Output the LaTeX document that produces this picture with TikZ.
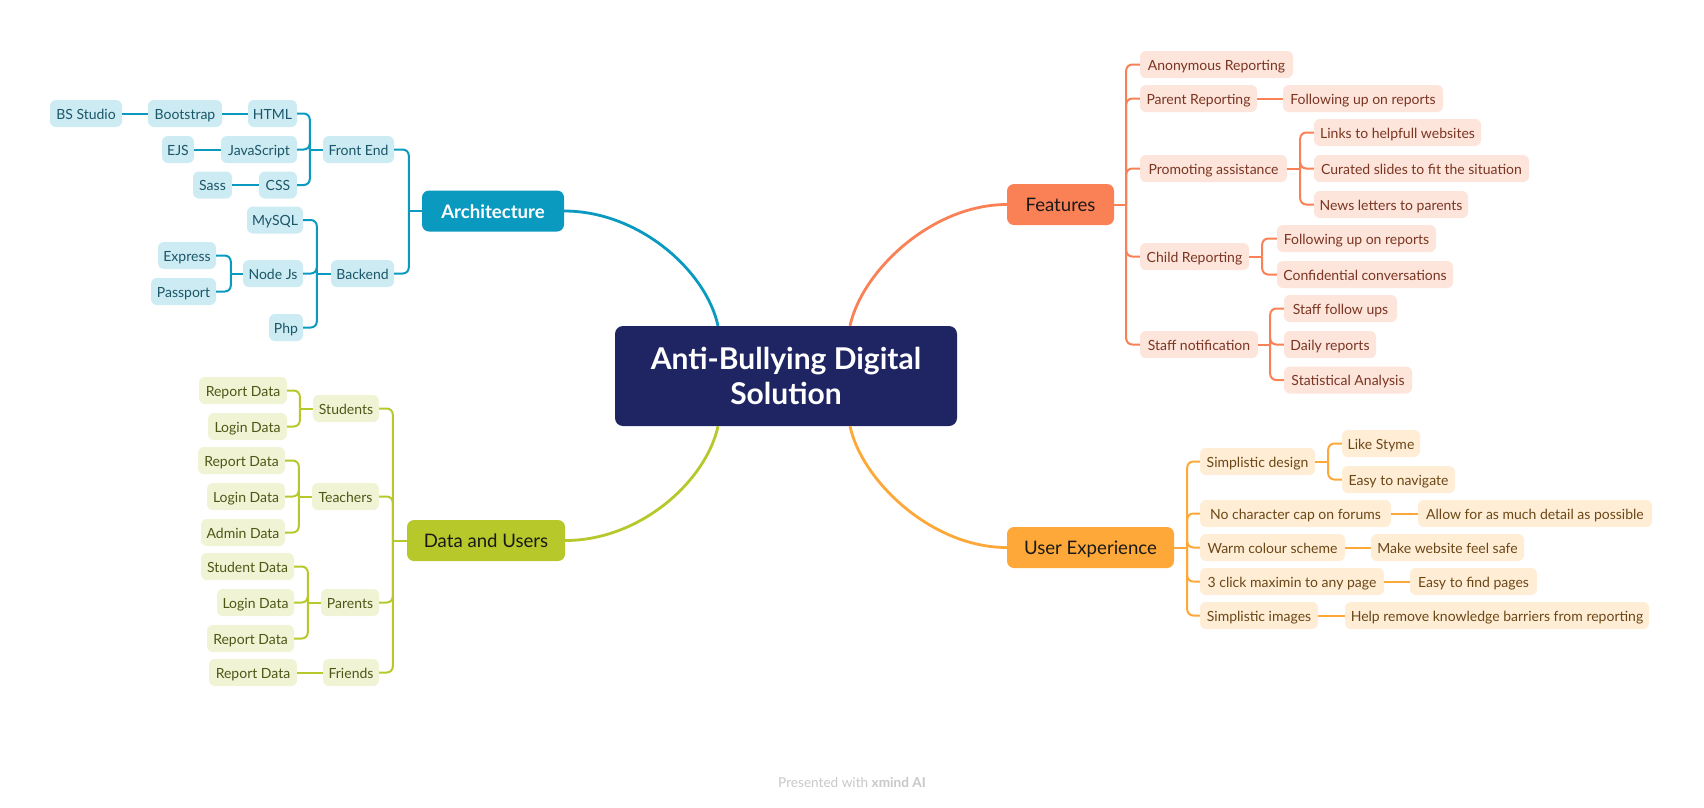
\documentclass[tikz,border=0pt]{standalone}
\usepackage{fontspec}
\setmainfont{Lato}
\definecolor{navy}{HTML}{1F2563}
\definecolor{aC}{HTML}{0A9AC0}\definecolor{aL}{HTML}{CDEBF3}\definecolor{aT}{HTML}{1A5668}
\definecolor{fC}{HTML}{FA8155}\definecolor{fL}{HTML}{FEE5DB}\definecolor{fT}{HTML}{7A3522}
\definecolor{gC}{HTML}{B7C82B}\definecolor{gL}{HTML}{F0F4D4}\definecolor{gT}{HTML}{4D5716}
\definecolor{uC}{HTML}{FDA838}\definecolor{uL}{HTML}{FFEDD6}\definecolor{uT}{HTML}{6B4716}
\definecolor{footgray}{HTML}{C8C8C8}
\begin{document}
\begin{tikzpicture}[x=1pt,y=-1pt,
  sub/.style={rounded corners=6pt, minimum height=27pt, inner sep=0pt, text height=11pt, text depth=0pt, font=\fontsize{14}{16}\selectfont},
  asub/.style={sub, fill=aL, text=aT},
  fsub/.style={sub, fill=fL, text=fT},
  gsub/.style={sub, fill=gL, text=gT},
  usub/.style={sub, fill=uL, text=uT},
  br/.style={rounded corners=7pt, minimum height=41pt, inner sep=0pt, text height=14pt, text depth=0pt, font=\fontsize{18.6}{22}\selectfont, text=black!90},
  rootbox/.style={rounded corners=8pt, fill=navy, text=white, minimum width=342pt, minimum height=100pt, inner sep=0pt, align=center, font=\fontsize{30}{35}\selectfont\bfseries},
  aln/.style={draw=aC, line width=2pt, rounded corners=6pt},
  fln/.style={draw=fC, line width=2pt, rounded corners=6pt},
  gln/.style={draw=gC, line width=2pt, rounded corners=6pt},
  uln/.style={draw=uC, line width=2pt, rounded corners=6pt},
  mainln/.style={line width=2.8pt}
]
\useasboundingbox (0,0) rectangle (1704,807);
\fill[white] (0,0) rectangle (1704,807);

% root
\node[rootbox] (root) at (786,376) {Anti-Bullying Digital\\Solution};

% ===== Architecture =====
\node[br, fill=aC, text=white, font=\fontsize{18.6}{22}\selectfont\bfseries, minimum width=142pt] (arch) at (493,211) {Architecture};
\node[asub, minimum width=72pt] (bs) at (86,113.5) {BS Studio};
\node[asub, minimum width=74pt] (boot) at (185,113.5) {Bootstrap};
\node[asub, minimum width=49pt] (html) at (272.5,113.5) {HTML};
\node[asub, minimum width=32pt] (ejs) at (178,149.5) {EJS};
\node[asub, minimum width=76pt] (js) at (259,149.5) {JavaScript};
\node[asub, minimum width=71pt] (fe) at (358.5,149.5) {Front End};
\node[asub, minimum width=39pt] (sass) at (212.5,185) {Sass};
\node[asub, minimum width=38pt] (css) at (278,185) {CSS};
\node[asub, minimum width=56pt] (mysql) at (275,220) {MySQL};
\node[asub, minimum width=58pt] (express) at (187,255.5) {Express};
\node[asub, minimum width=60pt] (nodejs) at (273,273.5) {Node Js};
\node[asub, minimum width=63pt] (backend) at (362.5,273.5) {Backend};
\node[asub, minimum width=65pt] (passport) at (183.5,291.5) {Passport};
\node[asub, minimum width=34pt] (php) at (286,327.5) {Php};

\draw[aln] (arch.west) -- ++(-13,0) coordinate (aj);
\draw[aln] (aj) |- (fe.east);
\draw[aln] (aj) |- (backend.east);
\draw[aln] (fe.west) -- ++(-13,0) coordinate (fej);
\draw[aln] (fej) |- (html.east);
\draw[aln] (fej) |- (js.east);
\draw[aln] (fej) |- (css.east);
\draw[aln] (html.west) -- (boot.east);
\draw[aln] (boot.west) -- (bs.east);
\draw[aln] (js.west) -- (ejs.east);
\draw[aln] (css.west) -- (sass.east);
\draw[aln] (backend.west) -- ++(-14,0) coordinate (bej);
\draw[aln] (bej) |- (mysql.east);
\draw[aln] (bej) |- (nodejs.east);
\draw[aln] (bej) |- (php.east);
\draw[aln] (nodejs.west) -- ++(-12,0) coordinate (nj);
\draw[aln] (nj) |- (express.east);
\draw[aln] (nj) |- (passport.east);

% ===== Data and Users =====
\node[br, fill=gC, minimum width=158pt] (dau) at (486,540.5) {Data and Users};
\node[gsub, minimum width=66pt] (stu) at (346,408.5) {Students};
\node[gsub, minimum width=88pt] (s1) at (243,390.5) {Report Data};
\node[gsub, minimum width=79pt] (s2) at (247.5,426.5) {Login Data};
\node[gsub, minimum width=67pt] (tea) at (345.5,496.5) {Teachers};
\node[gsub, minimum width=87pt] (t1) at (241.5,460.5) {Report Data};
\node[gsub, minimum width=78pt] (t2) at (246,496.5) {Login Data};
\node[gsub, minimum width=84pt] (t3) at (243,532.5) {Admin Data};
\node[gsub, minimum width=58pt] (par) at (350,602.5) {Parents};
\node[gsub, minimum width=93pt] (p1) at (247.5,566.5) {Student Data};
\node[gsub, minimum width=77pt] (p2) at (255.5,602.5) {Login Data};
\node[gsub, minimum width=87pt] (p3) at (250.5,638.5) {Report Data};
\node[gsub, minimum width=56pt] (fri) at (351,672.5) {Friends};
\node[gsub, minimum width=88pt] (f1) at (253,672.5) {Report Data};

\draw[gln] (dau.west) -- ++(-14,0) coordinate (dj);
\draw[gln] (dj) |- (stu.east);
\draw[gln] (dj) |- (tea.east);
\draw[gln] (dj) |- (par.east);
\draw[gln] (dj) |- (fri.east);
\draw[gln] (stu.west) -- ++(-13,0) coordinate (sj);
\draw[gln] (sj) |- (s1.east);
\draw[gln] (sj) |- (s2.east);
\draw[gln] (tea.west) -- ++(-13,0) coordinate (tj);
\draw[gln] (tj) |- (t1.east);
\draw[gln] (tj) |- (t2.east);
\draw[gln] (tj) |- (t3.east);
\draw[gln] (par.west) -- ++(-13,0) coordinate (pj);
\draw[gln] (pj) |- (p1.east);
\draw[gln] (pj) |- (p2.east);
\draw[gln] (pj) |- (p3.east);
\draw[gln] (fri.west) -- (f1.east);

% ===== Features =====
\node[br, fill=fC, minimum width=107pt] (feat) at (1060.5,204.5) {Features};
\node[fsub, minimum width=153pt] (anon) at (1216.5,64.5) {Anonymous Reporting};
\node[fsub, minimum width=117pt] (parrep) at (1198.5,98.5) {Parent Reporting};
\node[fsub, minimum width=160pt] (fu1) at (1363,98.5) {Following up on reports};
\node[fsub, minimum width=147pt] (prom) at (1213.5,168.5) {Promoting assistance};
\node[fsub, minimum width=167pt] (links) at (1397.5,132.5) {Links to helpfull websites};
\node[fsub, minimum width=215pt] (cur) at (1421.5,168.5) {Curated slides to fit the situation};
\node[fsub, minimum width=154pt] (news) at (1391,204.5) {News letters to parents};
\node[fsub, minimum width=109pt] (child) at (1194.5,256.5) {Child Reporting};
\node[fsub, minimum width=159pt] (fu2) at (1356.5,238.5) {Following up on reports};
\node[fsub, minimum width=176pt] (conf) at (1365,274.5) {Confidential conversations};
\node[fsub, minimum width=118pt] (staff) at (1199,344.5) {Staff notification};
\node[fsub, minimum width=113pt] (sfu) at (1340.5,308.5) {Staff follow ups};
\node[fsub, minimum width=92pt] (daily) at (1330,344.5) {Daily reports};
\node[fsub, minimum width=128pt] (stat) at (1348,380) {Statistical Analysis};

\draw[fln] (feat.east) -- ++(12,0) coordinate (fj);
\draw[fln] (fj) |- (anon.west);
\draw[fln] (fj) |- (parrep.west);
\draw[fln] (fj) |- (prom.west);
\draw[fln] (fj) |- (child.west);
\draw[fln] (fj) |- (staff.west);
\draw[fln] (parrep.east) -- (fu1.west);
\draw[fln] (prom.east) -- ++(13,0) coordinate (prj);
\draw[fln] (prj) |- (links.west);
\draw[fln] (prj) |- (cur.west);
\draw[fln] (prj) |- (news.west);
\draw[fln] (child.east) -- ++(13,0) coordinate (cj);
\draw[fln] (cj) |- (fu2.west);
\draw[fln] (cj) |- (conf.west);
\draw[fln] (staff.east) -- ++(12,0) coordinate (stj);
\draw[fln] (stj) |- (sfu.west);
\draw[fln] (stj) |- (daily.west);
\draw[fln] (stj) |- (stat.west);

% ===== User Experience =====
\node[br, fill=uC, minimum width=167pt] (ux) at (1090.5,547.5) {User Experience};
\node[usub, minimum width=115pt] (sd) at (1257.5,461.5) {Simplistic design};
\node[usub, minimum width=78pt] (like) at (1381,443.5) {Like Styme};
\node[usub, minimum width=113pt] (nav) at (1398.5,479.5) {Easy to navigate};
\node[usub, minimum width=191pt] (nocap) at (1295.5,513.5) {No character cap on forums};
\node[usub, minimum width=234pt] (allow) at (1535,513.5) {Allow for as much detail as possible};
\node[usub, minimum width=145pt] (warm) at (1272.5,547.5) {Warm colour scheme};
\node[usub, minimum width=153pt] (safe) at (1447.5,547.5) {Make website feel safe};
\node[usub, minimum width=184pt] (click) at (1292,581.5) {3 click maximin to any page};
\node[usub, minimum width=127pt] (find) at (1473.5,581.5) {Easy to find pages};
\node[usub, minimum width=118pt] (simg) at (1259,615.5) {Simplistic images};
\node[usub, minimum width=304pt] (help) at (1497,615.5) {Help remove knowledge barriers from reporting};

\draw[uln] (ux.east) -- ++(13,0) coordinate (uj);
\draw[uln] (uj) |- (sd.west);
\draw[uln] (uj) |- (nocap.west);
\draw[uln] (uj) |- (warm.west);
\draw[uln] (uj) |- (click.west);
\draw[uln] (uj) |- (simg.west);
\draw[uln] (sd.east) -- ++(13,0) coordinate (sdj);
\draw[uln] (sdj) |- (like.west);
\draw[uln] (sdj) |- (nav.west);
\draw[uln] (nocap.east) -- (allow.west);
\draw[uln] (warm.east) -- (safe.west);
\draw[uln] (click.east) -- (find.west);
\draw[uln] (simg.east) -- (help.west);

% ===== main curves =====
\draw[mainln, aC] ([xshift=-68pt]root.north) .. controls +(-12,-55) and +(75,0) .. (arch.east);
\draw[mainln, fC] ([xshift=64pt]root.north) .. controls +(12,-55) and +(-75,0) .. (feat.west);
\draw[mainln, gC] ([xshift=-68pt]root.south) .. controls +(-12,55) and +(75,0) .. (dau.east);
\draw[mainln, uC] ([xshift=64pt]root.south) .. controls +(12,55) and +(-75,0) .. (ux.west);

% footer
\node[text=footgray, font=\fontsize{13.6}{16}\selectfont] (footer) at (852,782) {Presented with \textbf{xmind AI}};
\end{tikzpicture}
\end{document}
